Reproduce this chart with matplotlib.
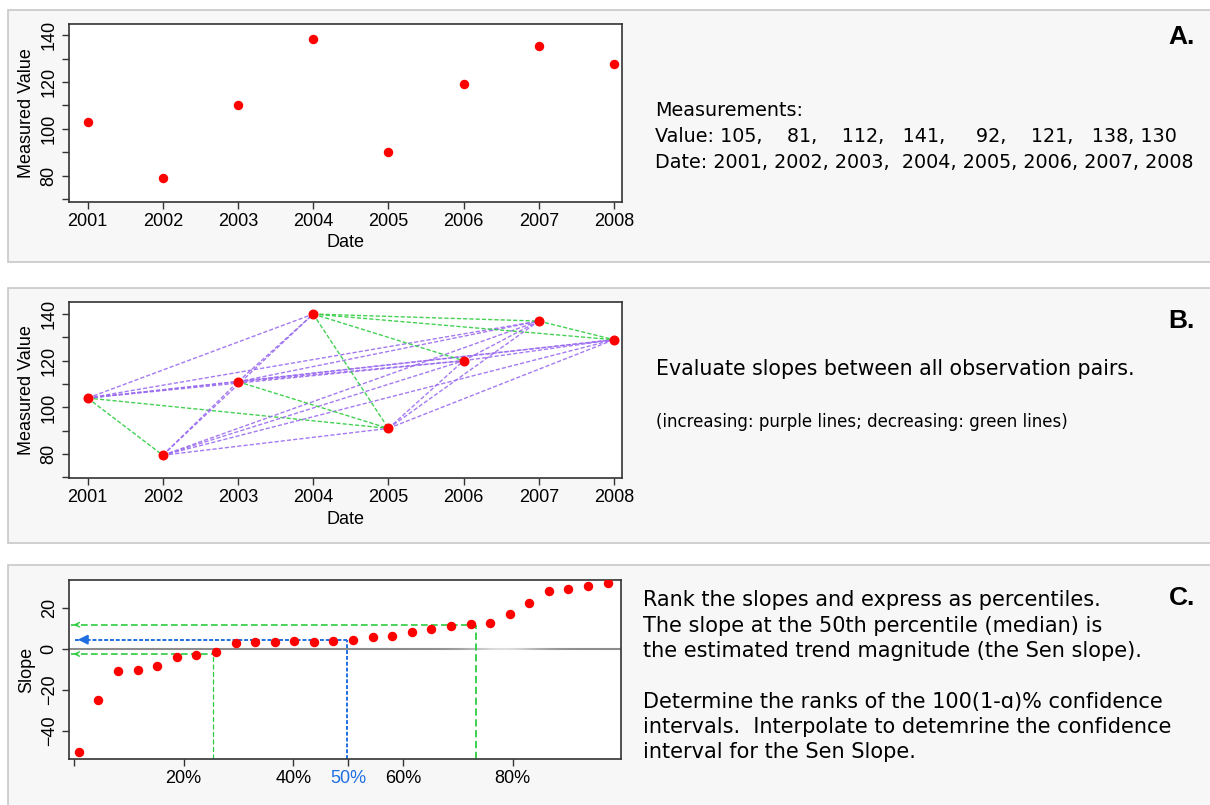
import matplotlib
matplotlib.use('Agg')
import matplotlib.pyplot as plt
import numpy as np
from matplotlib.patches import Rectangle
from matplotlib.collections import LineCollection

# measurements listed in panel A
years = [2001, 2002, 2003, 2004, 2005, 2006, 2007, 2008]
values = [105, 81, 112, 141, 92, 121, 138, 130]

# values as they are drawn in the plots
values_a = [103, 79, 110, 138.5, 90, 119, 135.5, 127.5]
values_b = [104, 79.5, 111, 140, 91, 120, 137, 129]

# ranked pairwise slopes (panel C)
slopes = [-50.3, -25.0, -11.0, -10.3, -8.4, -3.9, -3.1, -1.5, 2.9, 3.3, 3.3, 3.8, 3.4, 3.6,
          4.4, 5.6, 6.2, 7.9, 9.7, 11.3, 11.8, 12.6, 16.7, 22.3, 28.2, 29.3, 30.7, 31.8]
pct_ticks = [0, 20, 40, 50, 60, 80]
pct_labels = ['', '20%', '40%', '50%', '60%', '80%']

# sen slope and confidence limits (percentile, slope)
sen = (49.8, 4.4)
lower = (25.4, -2.6)
upper = (73.3, 11.7)

RED = '#ff0000'
PURPLE = '#9b6cf0'
GREEN = '#2ecc40'
BLUE = '#1f6fe0'
AX_FONT = 'Liberation Sans'
TXT_FONT = 'DejaVu Sans'

W, H = 1210, 805
fig = plt.figure(figsize=(W / 100, H / 100), dpi=100)
fig.patch.set_facecolor('white')


def px_axes(l, t, r, b):
    return fig.add_axes([l / W, 1 - b / H, (r - l) / W, (b - t) / H])


def style(ax):
    for s in ax.spines.values():
        s.set_color('#333333')
        s.set_linewidth(1.2)
    ax.tick_params(direction='out', length=5, width=1, color='#333333', labelsize=13, pad=3)
    for lab in ax.get_xticklabels():
        lab.set_fontfamily(AX_FONT)
    for lab in ax.get_yticklabels():
        lab.set_fontfamily(AX_FONT)
        lab.set_rotation(90)
        lab.set_va('center')
        lab.set_ha('right')


# grey panel boxes
for top, bot in [(10, 262), (288, 543), (565, 815)]:
    fig.add_artist(Rectangle((7.5 / W, 1 - bot / H), 1.1, (bot - top) / H,
                             transform=fig.transFigure, facecolor='#f7f7f7',
                             edgecolor='#c8c8c8', lw=1.2, zorder=0))

ytk = list(range(70, 141, 10))
ytl = ['' if v % 20 else str(v) for v in ytk]

# ---- panel A
axA = px_axes(68.8, 24.3, 621.9, 201.7)
axA.plot(years, values_a, 'o', color=RED, ms=5.8, zorder=3)
axA.set_xlim(2000.75, 2008.105)
axA.set_ylim(68.9, 144.6)
axA.set_xticks(years)
axA.set_yticks(ytk, ytl)
axA.set_xlabel('Date', fontsize=13, family=AX_FONT, labelpad=3)
axA.set_ylabel('Measured Value', fontsize=13, family=AX_FONT, labelpad=4)
style(axA)

# ---- panel B
axB = px_axes(68.8, 301.7, 621.9, 478.3)
n = len(years)
for i in range(n):
    for j in range(i + 1, n):
        c = PURPLE if values_b[j] > values_b[i] else GREEN
        axB.plot([years[i], years[j]], [values_b[i], values_b[j]], ls=(0, (3, 1.5)),
                 lw=1.0, color=c, alpha=0.9, zorder=2)
axB.plot(years, values_b, 'o', color=RED, ms=6.2, zorder=3)
axB.set_xlim(2000.75, 2008.105)
axB.set_ylim(69.6, 145.3)
axB.set_xticks(years)
axB.set_yticks(ytk, ytl)
axB.set_xlabel('Date', fontsize=13, family=AX_FONT, labelpad=3)
axB.set_ylabel('Measured Value', fontsize=13, family=AX_FONT, labelpad=4)
style(axB)

# ---- panel C
axC = px_axes(68.8, 580, 620.6, 759)
m = len(slopes)
pct = [100 * (r - 0.75) / m for r in range(1, m + 1)]
ylo = -53.8
axC.set_xlim(-0.95, 99.7)
axC.set_ylim(ylo, 33.5)

# zero line, washed out a little past the upper limit as in the original
zx = np.linspace(-0.95, 99.7, 200)
fade = 0.8 * np.exp(-((zx - 78) / 7) ** 2)
gray = 0.55 + (0.95 - 0.55) * fade
segs = [[(zx[k], 0), (zx[k + 1], 0)] for k in range(len(zx) - 1)]
axC.add_collection(LineCollection(segs, colors=[(g, g, g) for g in gray[:-1]], lw=1.5, zorder=1))

# confidence limits (green) and sen slope (blue)
for (px, sv), lw in [(lower, 0.9), (upper, 1.3)]:
    axC.plot([px, px], [ylo, sv], ls=(0, (4, 2)), color=GREEN, lw=lw, zorder=2)
    axC.plot([-0.6, px], [sv, sv], ls=(0, (4, 2)), color=GREEN, lw=1.2, zorder=2)
    axC.annotate('', xy=(-0.6, sv), xytext=(1.2, sv),
                 arrowprops=dict(arrowstyle='->', color=GREEN, lw=1.0, mutation_scale=8))
axC.plot([sen[0], sen[0]], [ylo, sen[1]], ls=(0, (2, 1)), color=BLUE, lw=1.4, zorder=2)
axC.plot([0.2, sen[0]], [sen[1], sen[1]], ls=(0, (2, 1)), color=BLUE, lw=1.4, zorder=2)
axC.annotate('', xy=(0.2, sen[1]), xytext=(3.0, sen[1]),
             arrowprops=dict(arrowstyle='-|>', color=BLUE, lw=1.4, mutation_scale=14))

axC.plot(pct, slopes, 'o', color=RED, ms=5.8, zorder=4)
axC.set_xticks(pct_ticks, pct_labels)
axC.set_yticks([-40, -20, 0, 20])
axC.set_ylabel('Slope', fontsize=13, family=AX_FONT, labelpad=4)
style(axC)
axC.get_xticklabels()[3].set_color(BLUE)

# ---- right-hand text
def ftext(x, y, s, size=13.8, **kw):
    fig.text(x / W, 1 - y / H, s, fontsize=size, va='center', family=TXT_FONT, **kw)


def letter(y, s):
    fig.text(1195 / W, 1 - y / H, s, fontsize=19, fontweight='bold', family=AX_FONT,
             ha='right', va='center')


letter(37, 'A.')
ftext(655, 110.5, 'Measurements:')
ftext(655, 137, 'Value: ' + str(values[0]) + ',    81,    112,   141,     92,    121,   138, 130')
ftext(655, 162.5, 'Date: ' + ', '.join(str(y) for y in years[:3]) + ',  ' + ', '.join(str(y) for y in years[3:]))

letter(321, 'B.')
ftext(656, 369, 'Evaluate slopes between all observation pairs.', size=14.8)
ftext(656, 422, '(increasing: purple lines; decreasing: green lines)', size=12)

letter(598, 'C.')
c_lines = ['Rank the slopes and express as percentiles.',
           'The slope at the 50th percentile (median) is',
           'the estimated trend magnitude (the Sen slope).',
           '',
           'Determine the ranks of the 100(1-\u0251)% confidence',
           'intervals.  Interpolate to detemrine the confidence',
           'interval for the Sen Slope.']
c_y = [600, 625.5, 650.5, 676, 701.5, 726.5, 751.5]
for s, y in zip(c_lines, c_y):
    if s:
        ftext(643, y, s, size=15)

fig.savefig('out.png', dpi=100)
